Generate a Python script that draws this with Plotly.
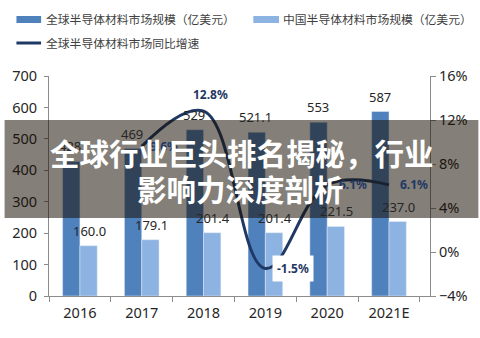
import plotly.graph_objects as go

years = ["2016", "2017", "2018", "2019", "2020", "2021E"]
global_size = [428, 469, 529, 521.1, 553, 587]
china_size = [160.0, 179.1, 201.4, 201.4, 221.5, 237.0]
growth_years = ["2017", "2018", "2019", "2020", "2021E"]
growth = [9.6, 12.8, -1.5, 6.1, 6.1]
global_labels = ["428", "469", "529", "521.1", "553", "587"]
china_labels = ["160.0", "179.1", "201.4", "201.4", "221.5", "237.0"]
growth_labels = ["9.6%", "12.8%", "-1.5%", "6.1%", "6.1%"]

name_global = "全球半导体材料市场规模（亿美元）"
name_china = "中国半导体材料市场规模（亿美元）"
name_growth = "全球半导体材料市场同比增速"
title_line1 = "全球行业巨头排名揭秘，行业"
title_line2 = "影响力深度剖析"

DARK = "#4f81bd"
LIGHT = "#8db3e2"
NAVY = "#1f3864"
AXIS = "#8c8c8c"
TXT = "#262626"
FONT = "Noto Sans, Noto Sans CJK SC, sans-serif"

W, H = 480, 338
L, R, T, B = 45, 49, 76, 42
PW, PH = W - L - R, H - T - B

def px(x):
    return (x - L) / PW

def py(y):
    return (H - B - y) / PH

fig = go.Figure()
fig.add_trace(go.Bar(x=years, y=global_size, name=name_global, marker_color=DARK,
                     showlegend=False))
fig.add_trace(go.Bar(x=years, y=china_size, name=name_china, marker_color=LIGHT,
                     showlegend=False))
fig.add_trace(go.Scatter(x=growth_years, y=growth, name=name_growth, yaxis="y2",
                         mode="lines", line=dict(color=NAVY, width=3, shape="spline", smoothing=1.1),
                         showlegend=False))

ann = []
for yr, v, t in zip(years, global_size, global_labels):
    ann.append(dict(x=years.index(yr), y=v, text=t, showarrow=False, xshift=-9.5, yshift=15,
                    font=dict(size=13, color=TXT, family=FONT)))
for yr, v, t in zip(years, china_size, china_labels):
    ann.append(dict(x=years.index(yr), y=v, text=t, showarrow=False, xshift=9.5, yshift=15,
                    font=dict(size=13, color=TXT, family=FONT)))
shifts = {"2017": (22, 0, None), "2018": (7, 17, None), "2019": (28, 0, "white"),
          "2020": (26, 0, None), "2021E": (25, 0, None)}
for yr, v, t in zip(growth_years, growth, growth_labels):
    xs, ys, bg = shifts[yr]
    a = dict(x=years.index(yr), y=v, yref="y2", text="<b>" + t + "</b>", showarrow=False,
             xshift=xs, yshift=ys, font=dict(size=12, color=NAVY, family=FONT))
    if bg:
        a["bgcolor"] = bg
        a["borderpad"] = 4
    ann.append(a)

# manual legend
shapes = [
    dict(type="rect", xref="paper", yref="paper", x0=px(12), x1=px(37), y0=py(23), y1=py(16),
         fillcolor=DARK, line_width=0),
    dict(type="rect", xref="paper", yref="paper", x0=px(252), x1=px(278), y0=py(23), y1=py(16),
         fillcolor=LIGHT, line_width=0),
    dict(type="line", xref="paper", yref="paper", x0=px(12), x1=px(37), y0=py(43), y1=py(43),
         line=dict(color=NAVY, width=3)),
]
for x0, y0, t in [(40, 19, name_global), (280, 19, name_china), (40, 43, name_growth)]:
    ann.append(dict(xref="paper", yref="paper", x=px(x0), y=py(y0), xanchor="left", yanchor="middle",
                    text=t, showarrow=False, font=dict(size=11.8, color="#404040", family=FONT)))

# banner overlay
shapes.append(dict(type="rect", xref="paper", yref="paper", x0=px(0), x1=px(W), y0=py(218), y1=py(120),
                   fillcolor="rgba(22,14,0,0.53)", line_width=0, layer="above"))
ann.append(dict(xref="paper", yref="paper", x=px(241), y=py(152), text=title_line1, showarrow=False,
                xanchor="center", yanchor="middle",
                font=dict(size=29.5, color="white", family="Noto Sans CJK SC", weight="bold")))
ann.append(dict(xref="paper", yref="paper", x=px(239), y=py(188), text=title_line2, showarrow=False,
                xanchor="center", yanchor="middle",
                font=dict(size=29.5, color="white", family="Noto Sans CJK SC", weight="bold")))

fig.update_layout(
    width=W, height=H, margin=dict(l=L, r=R, t=T, b=B),
    paper_bgcolor="white", plot_bgcolor="white",
    barmode="group", bargap=0.44, bargroupgap=0,
    font=dict(family=FONT, size=14, color=TXT),
    xaxis=dict(type="category", showline=True, linecolor=AXIS, linewidth=1, ticks="outside",
               tickson="boundaries", ticklen=5, tickcolor=AXIS, showgrid=False,
               ticklabelstandoff=4, tickfont=dict(size=14.5, color=TXT)),
    yaxis=dict(range=[0, 700], dtick=100, showline=True, linecolor=AXIS, ticks="outside", ticklen=4,
               tickcolor=AXIS, showgrid=False, zeroline=False, ticklabelstandoff=4,
               tickfont=dict(size=14.5, color=TXT)),
    yaxis2=dict(range=[-4, 16], dtick=4, overlaying="y", side="right", showline=True, linecolor=AXIS,
                ticks="outside", ticklen=5, tickcolor=AXIS, showgrid=False, zeroline=False,
                ticksuffix="%", tickfont=dict(size=14.5, color=TXT)),
    shapes=shapes, annotations=ann, showlegend=False,
)

fig.write_html("out.html")
